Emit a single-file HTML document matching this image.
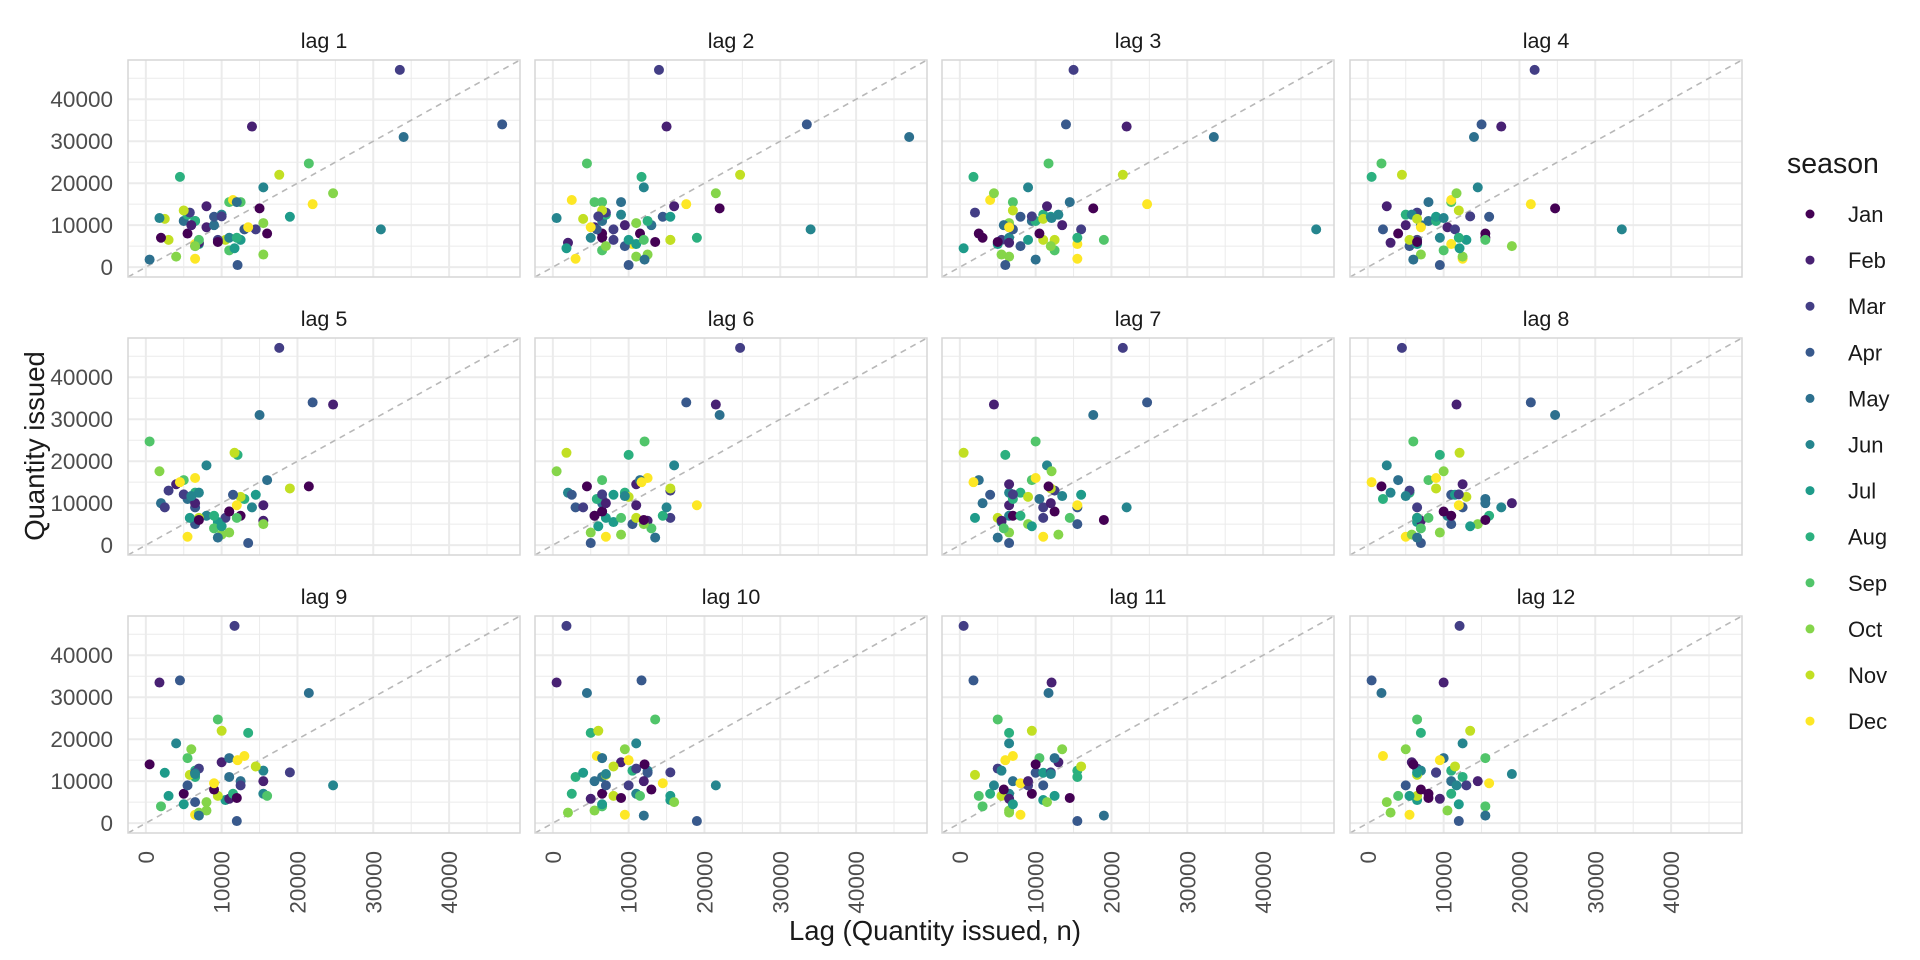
<!DOCTYPE html>
<html><head><meta charset="utf-8">
<style>
body{margin:0;background:#fff;}
svg{display:block;font-family:"Liberation Sans",Arial,sans-serif;}
</style></head>
<body>
<svg id="chart" width="1920" height="960" viewBox="0 0 1920 960"></svg>
<script>
// monthly series of quantity issued, starting July (approximated from the reference)
const monthNames = ["Jan","Feb","Mar","Apr","May","Jun","Jul","Aug","Sep","Oct","Nov","Dec"];
const startMonth = 6;
const seriesValues = [
 6500,11000,15500,10500,6500,5500,
 8000,9500,6500,5000,11000,7000,5500,12500,15500,3000,6500,2000,
 7000,5800,13000,9000,10000,12500,6500,11000,4000,2500,11500,16000,
 8000,14500,9000,12000,15500,19000,12000,7000,6500,5000,13500,9500,
 6000,10000,12100,500,1800,11700,4500,21500,24700,17600,22000,15000,
 14000,33500,47000,34000,31000,9000
];
const lags = [1,2,3,4,5,6,7,8,9,10,11,12];
const tickValues = [0,10000,20000,30000,40000];
const tickLabels = ["0","10000","20000","30000","40000"];
const colors = ["#440154","#482173","#433E85","#38598C","#2D708E","#25858E","#1E9B8A","#2BB07F","#51C56A","#85D54A","#C2DF23","#FDE725"];

const NS="http://www.w3.org/2000/svg";
const svg=document.getElementById('chart');
function mk(tag,attrs,parent){const e=document.createElementNS(NS,tag);for(const k in attrs)e.setAttribute(k,attrs[k]);(parent||svg).appendChild(e);return e;}

const dmin=-2350, dmax=49350;
const colX=[128,535,942,1350], rowY=[60,338,616], PW=392, PH=217;
function sx(v,px){return px+(v-dmin)/(dmax-dmin)*PW;}
function sy(v,py){return py+PH-(v-dmin)/(dmax-dmin)*PH;}

const defs=mk('defs',{});
lags.forEach((lag,i)=>{
  const c=i%4, r=Math.floor(i/4), px=colX[c], py=rowY[r];
  const g=mk('g',{});
  
  
  const cp=mk('clipPath',{id:'cp'+i},defs);
  mk('rect',{x:px,y:py,width:PW,height:PH},cp);
  for(let v=5000;v<dmax;v+=10000){
    mk('line',{x1:sx(v,px),x2:sx(v,px),y1:py,y2:py+PH,stroke:'#ebebeb','stroke-width':1},g);
    mk('line',{x1:px,x2:px+PW,y1:sy(v,py),y2:sy(v,py),stroke:'#ebebeb','stroke-width':1},g);
  }
  tickValues.forEach(v=>{
    mk('line',{x1:sx(v,px),x2:sx(v,px),y1:py,y2:py+PH,stroke:'#ebebeb','stroke-width':2},g);
    mk('line',{x1:px,x2:px+PW,y1:sy(v,py),y2:sy(v,py),stroke:'#ebebeb','stroke-width':2},g);
  });
  const diag=mk('line',{x1:sx(dmin,px),y1:sy(dmin,py),x2:sx(dmax,px),y2:sy(dmax,py),stroke:'#b8b8b8','stroke-width':1.6,'stroke-dasharray':'6 5','clip-path':'url(#cp'+i+')'},g);
  
  
  const pts=mk('g',{'clip-path':'url(#cp'+i+')'},g);
  for(let t=lag;t<seriesValues.length;t++){
    const m=(t+startMonth)%12;
    const p=mk('circle',{cx:sx(seriesValues[t-lag],px),cy:sy(seriesValues[t],py),r:5,fill:colors[m]},pts);
    
    
  }
  mk('rect',{x:px,y:py,width:PW,height:PH,fill:'none',stroke:'#d6d6d6','stroke-width':1.5},g);
  const st=mk('text',{x:px+PW/2,y:py-12,'text-anchor':'middle','font-size':21.5,fill:'#1a1a1a'},g);
  st.textContent='lag '+lag;
  
  
  if(c===0){
    tickValues.forEach((v,k)=>{
      const t=mk('text',{x:113,y:sy(v,py)+8,'text-anchor':'end','font-size':22.5,fill:'#4d4d4d'},g);
      t.textContent=tickLabels[k];
      
      
    });
  }
  if(r===2){
    tickValues.forEach((v,k)=>{
      const x=sx(v,px)+8, y=py+PH+18;
      const t=mk('text',{x:x,y:y,'text-anchor':'end','font-size':22.5,fill:'#4d4d4d',transform:'rotate(-90 '+x+' '+y+')'},g);
      t.textContent=tickLabels[k];
      
      
    });
  }
});

const xt=mk('text',{x:935,y:940,'text-anchor':'middle','font-size':27.5,fill:'#1a1a1a'});
xt.textContent='Lag (Quantity issued, n)';


const yt=mk('text',{x:44,y:446,'text-anchor':'middle','font-size':27.5,fill:'#1a1a1a',transform:'rotate(-90 44 446)'});
yt.textContent='Quantity issued';



const lg=mk('g',{});


const lt=mk('text',{x:1787,y:173,'font-size':28.5,fill:'#1a1a1a'},lg);
lt.textContent='season';


monthNames.forEach((m,k)=>{
  const e=mk('g',{},lg);
  
  
  const y=214+k*46.1;
  mk('circle',{cx:1810,cy:y,r:4.5,fill:colors[k]},e);
  const t=mk('text',{x:1848,y:y+8,'font-size':22,fill:'#1a1a1a'},e);
  t.textContent=m;
});
</script>
</body></html>
